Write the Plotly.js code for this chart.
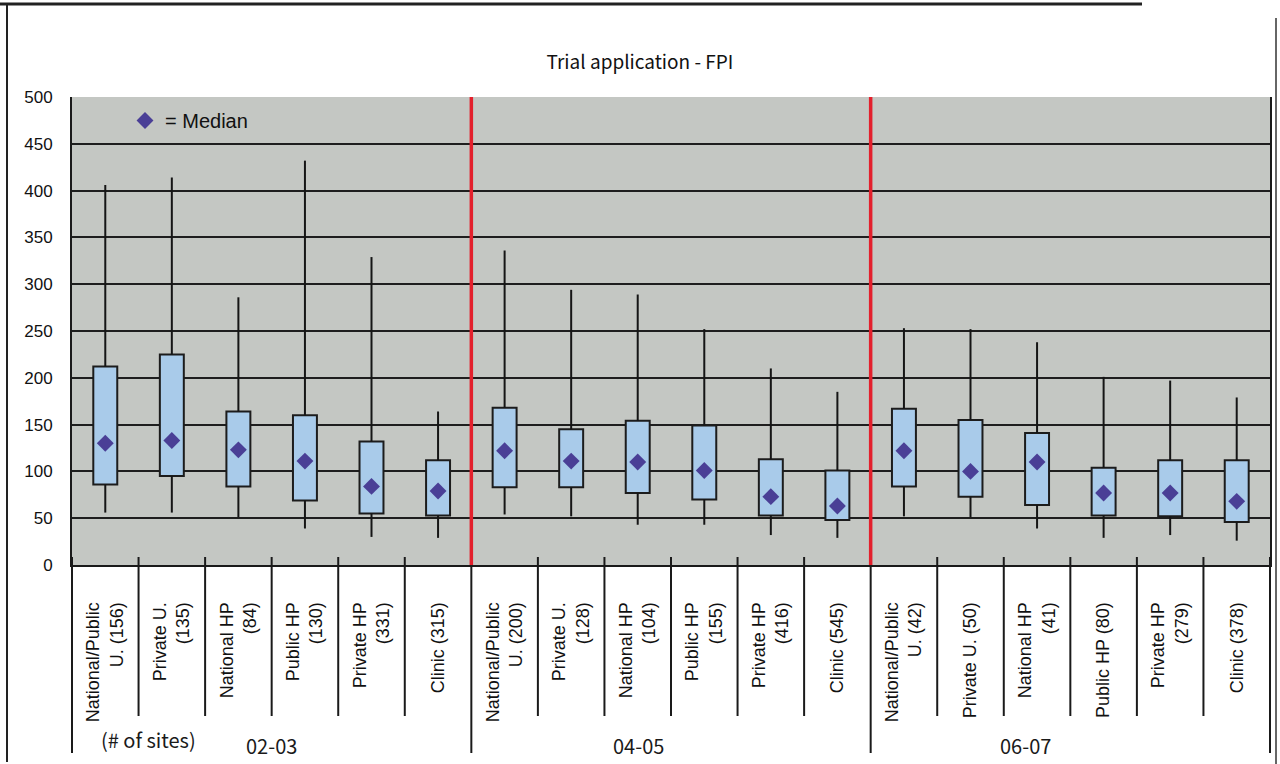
<!DOCTYPE html>
<html>
<head>
<meta charset="utf-8">
<script src="https://cdn.plot.ly/plotly-3.0.1.min.js"></script>
<style>html,body{margin:0;padding:0;background:#fff;}#chart{width:1280px;height:764px;}</style>
</head>
<body>
<div id="chart"></div>
<script>
// ---- data ----
const groups = ['02-03', '04-05', '06-07'];
const categories = [
  'National/Public<br>U. (156)', 'Private U.<br>(135)', 'National HP<br>(84)', 'Public HP<br>(130)', 'Private HP<br>(331)', 'Clinic (315)',
  'National/Public<br>U. (200)', 'Private U.<br>(128)', 'National HP<br>(104)', 'Public HP<br>(155)', 'Private HP<br>(416)', 'Clinic (545)',
  'National/Public<br>U. (42)', 'Private U. (50)', 'National HP<br>(41)', 'Public HP (80)', 'Private HP<br>(279)', 'Clinic (378)'
];
const whiskerLow  = [56, 56, 51, 39, 30, 29,   54, 52, 43, 43, 32, 29,   52, 51, 39, 29, 32, 26];
const boxLow      = [86, 95, 84, 69, 55, 53,   83, 83, 77, 70, 53, 48,   84, 73, 64, 53, 52, 46];
const median      = [130, 133, 123, 111, 84, 79,   122, 111, 110, 101, 73, 63,   122, 100, 110, 77, 77, 68];
const boxHigh     = [212, 225, 164, 160, 132, 112,   168, 145, 154, 149, 113, 101,   167, 155, 141, 104, 112, 112];
const whiskerHigh = [406, 414, 286, 432, 329, 164,   336, 294, 289, 252, 210, 185,   253, 252, 238, 201, 197, 179];
const groupSize = 6;
const yTicks = [0, 50, 100, 150, 200, 250, 300, 350, 400, 450, 500];

// ---- traces ----
const n = categories.length;
const wx = [], wy = [];
for (let i = 0; i < n; i++) {
  wx.push(categories[i], categories[i], null, categories[i], categories[i], null);
  wy.push(whiskerLow[i], boxLow[i], null, boxHigh[i], whiskerHigh[i], null);
}
const boxes = {
  type: 'bar', x: categories,
  base: boxLow, y: boxHigh.map((v, i) => v - boxLow[i]),
  width: 0.36,
  marker: {color: '#a9cbea', line: {color: '#1c1c1c', width: 2}},
  showlegend: false, hoverinfo: 'skip'
};
const whiskers = {
  type: 'scatter', mode: 'lines', x: wx, y: wy,
  line: {color: '#151515', width: 2}, showlegend: false, hoverinfo: 'skip', connectgaps: false
};
const medians = {
  type: 'scatter', mode: 'markers', x: categories, y: median,
  name: '= Median',
  marker: {symbol: 'diamond', size: 13, color: '#4a3f96'},
  showlegend: true
};

// ---- layout helpers ----
const L = 72, R = 10, T = 97, B = 199, W = 1280, H = 764;
const pw = W - L - R, ph = H - T - B;
const px = v => (v - L) / pw;            // pixel x -> paper x
const py = v => (H - B - v) / ph;        // pixel y -> paper y

const shapes = [];
// category dividers below the axis
for (let i = 0; i <= n; i++) {
  const isGroupEdge = (i % groupSize === 0);
  shapes.push({type: 'line', xref: 'paper', yref: 'paper',
    x0: i / n, x1: i / n, y0: py(H - B - 8), y1: isGroupEdge ? py(753) : py(716),
    line: {color: '#1a1a1a', width: 2}});
}
// red separators between groups
for (let g = 1; g < groups.length; g++) {
  shapes.push({type: 'line', xref: 'paper', yref: 'y',
    x0: g * groupSize / n, x1: g * groupSize / n, y0: 0, y1: 500,
    line: {color: '#e3202c', width: 3.5}});
}
// outer frame
shapes.push({type: 'line', xref: 'paper', yref: 'paper', x0: px(7), x1: px(7), y0: py(5), y1: py(762), line: {color: '#222', width: 2}});
shapes.push({type: 'line', xref: 'paper', yref: 'paper', x0: px(0), x1: px(1142), y0: py(4), y1: py(4), line: {color: '#222', width: 3}});
shapes.push({type: 'line', xref: 'paper', yref: 'paper', x0: px(1276), x1: px(1276), y0: py(18), y1: py(764), line: {color: '#333', width: 1.5}});

const gfont = {family: '"Noto Sans CJK JP", "Noto Sans", sans-serif', size: 20, color: '#1a1a1a'};
const annotations = [
  {text: '(# of sites)', xref: 'paper', yref: 'paper', x: px(148), y: py(739), xanchor: 'center', yanchor: 'middle', showarrow: false, font: gfont},
  {text: groups[0], xref: 'paper', yref: 'paper', x: px(271), y: py(745), xanchor: 'center', yanchor: 'middle', showarrow: false, font: gfont},
  {text: groups[1], xref: 'paper', yref: 'paper', x: px(638), y: py(745), xanchor: 'center', yanchor: 'middle', showarrow: false, font: gfont},
  {text: groups[2], xref: 'paper', yref: 'paper', x: px(1025), y: py(745), xanchor: 'center', yanchor: 'middle', showarrow: false, font: gfont}
];

const layout = {
  width: W, height: H,
  margin: {l: L, r: R, t: T, b: B},
  paper_bgcolor: '#ffffff',
  plot_bgcolor: '#c4c7c3',
  title: {text: 'Trial application - FPI', x: 0.5, xanchor: 'center', y: 1 - 62 / H, yanchor: 'middle',
    font: {family: '"Noto Sans CJK JP", "Noto Sans", sans-serif', size: 19, color: '#111'}},
  xaxis: {
    type: 'category', categoryorder: 'array', categoryarray: categories,
    range: [-0.5, n - 0.5], showgrid: false, zeroline: false,
    showline: true, linecolor: '#1a1a1a', linewidth: 2,
    ticks: '', tickangle: -90, ticklabelstandoff: 28,
    tickfont: {family: '"Liberation Sans", Arial, sans-serif', size: 18, color: '#111'},
    fixedrange: true
  },
  yaxis: {
    range: [0, 500], tickvals: yTicks, ticktext: yTicks.map(String),
    showgrid: true, gridcolor: '#1e1e1e', gridwidth: 2,
    zeroline: false, showline: true, linecolor: '#1a1a1a', linewidth: 2, mirror: true,
    ticks: '', ticklabelstandoff: 14,
    tickfont: {family: '"Liberation Sans", Arial, sans-serif', size: 17, color: '#111'},
    fixedrange: true
  },
  barmode: 'overlay',
  showlegend: true,
  legend: {x: px(125), y: py(101), xanchor: 'left', yanchor: 'top', bgcolor: 'rgba(0,0,0,0)',
    font: {family: '"Liberation Sans", Arial, sans-serif', size: 20, color: '#111'}, itemsizing: 'trace'},
  shapes: shapes,
  annotations: annotations
};

Plotly.newPlot('chart', [boxes, whiskers, medians], layout, {displayModeBar: false, staticPlot: true});
</script>
</body>
</html>
